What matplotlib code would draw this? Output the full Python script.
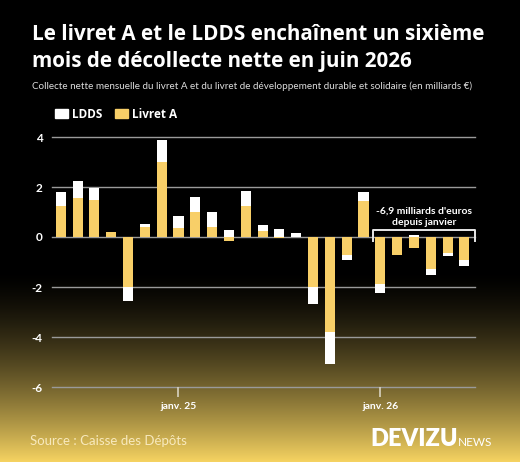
import numpy as np
import matplotlib
matplotlib.use("Agg")
import matplotlib.pyplot as plt

# données : collecte nette mensuelle (milliards €), juin 2024 -> juin 2026
mois = ["juin 24", "juil. 24", "août 24", "sept. 24", "oct. 24", "nov. 24", "déc. 24",
        "janv. 25", "févr. 25", "mars 25", "avr. 25", "mai 25", "juin 25", "juil. 25",
        "août 25", "sept. 25", "oct. 25", "nov. 25", "déc. 25",
        "janv. 26", "févr. 26", "mars 26", "avr. 26", "mai 26", "juin 26"]
livret_a = [1.22, 1.57, 1.49, 0.19, -1.98, 0.39, 2.99,
            0.36, 0.98, 0.40, -0.18, 1.22, 0.23, -0.06,
            0.0, -1.98, -3.81, -0.73, 1.46,
            -1.88, -0.73, -0.46, -1.29, -0.65, -0.93]
ldds = [0.57, 0.69, 0.46, 0.0, -0.57, 0.14, 0.90,
        0.49, 0.61, 0.58, 0.28, 0.63, 0.24, 0.31,
        0.15, -0.70, -1.26, -0.20, 0.35,
        -0.37, 0.0, 0.07, -0.22, -0.12, -0.23]
yticks = [4, 2, 0, -2, -4, -6]
xtick_idx = [7, 19]
xtick_labels = ["janv. 25", "janv. 26"]

JAUNE = "#F8CF68"
BLANC = "#FFFFFF"
GRIS = "#9A9A9A"

fig = plt.figure(figsize=(5.2, 4.62), dpi=100)

# fond : noir puis dégradé doré vers le bas
bg = fig.add_axes([0, 0, 1, 1], zorder=0)
h = 462
yy = np.arange(h)
t = np.clip((yy - 270) / 192.0, 0, 1) ** 1.5
gold = np.array([247, 212, 98]) / 255.0
grad = t[:, None] * gold[None, :]
img = np.repeat(grad[:, None, :], 2, axis=1)
bg.imshow(img, aspect="auto", extent=[0, 1, 0, 1], origin="upper")
bg.axis("off")

ax = fig.add_axes([52 / 520, 75 / 462, 423 / 520, 250 / 462], zorder=1)
ax.patch.set_alpha(0)

x = np.arange(len(mois))
la = np.array(livret_a)
ld = np.array(ldds)
w = 0.6
ax.bar(x, la, width=w, color=JAUNE, zorder=3)
# LDDS empilé au-dessus (positif) ou en-dessous (négatif) du livret A
base = np.where(np.sign(ld) == np.sign(la), la, 0)
ax.bar(x, ld, width=w, bottom=base, color=BLANC, zorder=3)

for v in yticks:
    ax.axhline(v, color=GRIS, lw=1, zorder=1, clip_on=False)

ax.set_xlim(-0.52, 24.63)
ax.set_ylim(-6, 4)
ax.set_yticks(yticks)
ax.set_yticklabels([str(v) for v in yticks], color="white", fontweight="bold",
                   fontsize=8.5, family="Lato")
ax.tick_params(axis="y", length=0, pad=7)
ax.set_xticks(xtick_idx)
ax.set_xticklabels(xtick_labels, color="white", fontweight="bold", fontsize=7.5,
                   family="Lato")
ax.tick_params(axis="x", length=7, width=1.2, color="#D8D2C0", pad=4)
for s in ax.spines.values():
    s.set_visible(False)

# accolade depuis janvier
bx0, bx1, by, bdown = 18.59, 24.63, 0.28, -0.18
ax.plot([bx0, bx0, bx1, bx1], [bdown, by, by, bdown], color="#E8E8E8", lw=1.4,
        zorder=4, clip_on=False)
ax.text((bx0 + bx1) / 2, 1.02, "-6,9 milliards d'euros", ha="center", va="center",
        color="white", fontweight="bold", fontsize=7.5, family="Lato")
ax.text((bx0 + bx1) / 2, 0.58, "depuis janvier", ha="center", va="center",
        color="white", fontweight="bold", fontsize=7.5, family="Lato")

# titres
fig.text(32 / 520, 1 - 34 / 462, "Le livret A et le LDDS enchaînent un sixième",
         color="white", fontweight="bold", fontsize=14.9, family="Open Sans", va="center")
fig.text(32 / 520, 1 - 61 / 462, "mois de décollecte nette en juin 2026",
         color="white", fontweight="bold", fontsize=14.9, family="Open Sans", va="center")
fig.text(32 / 520, 1 - 86 / 462,
         "Collecte nette mensuelle du livret A et du livret de développement durable et solidaire (en milliards €)",
         color="#DDDDDD", fontsize=7.1, family="Lato", va="center")

# légende
fig.patches.append(plt.Rectangle((55 / 520, 1 - 118 / 462), 13 / 520, 9 / 462,
                                 transform=fig.transFigure, color=BLANC))
fig.text(72 / 520, 1 - 114 / 462, "LDDS", color="white", fontweight="bold",
         fontsize=8.5, family="Open Sans", va="center")
fig.patches.append(plt.Rectangle((115 / 520, 1 - 118 / 462), 13 / 520, 9 / 462,
                                 transform=fig.transFigure, color=JAUNE))
fig.text(132 / 520, 1 - 114 / 462, "Livret A", color="white", fontweight="bold",
         fontsize=8.5, family="Open Sans", va="center")

# pied
fig.text(30 / 520, 1 - 441 / 462, "Source : Caisse des Dépôts", color="#FFF3D0",
         alpha=0.85, fontsize=9.5, family="Lato", va="center")
fig.text(370 / 520, 1 - 446 / 462, "DEVIZU", color="white", fontweight="heavy",
         fontsize=17, family="Lato", va="baseline")
fig.text(458 / 520, 1 - 446 / 462, "NEWS", color="white", fontsize=8.5,
         family="Lato", va="baseline")

fig.savefig("out.png", dpi=100, facecolor="black")
